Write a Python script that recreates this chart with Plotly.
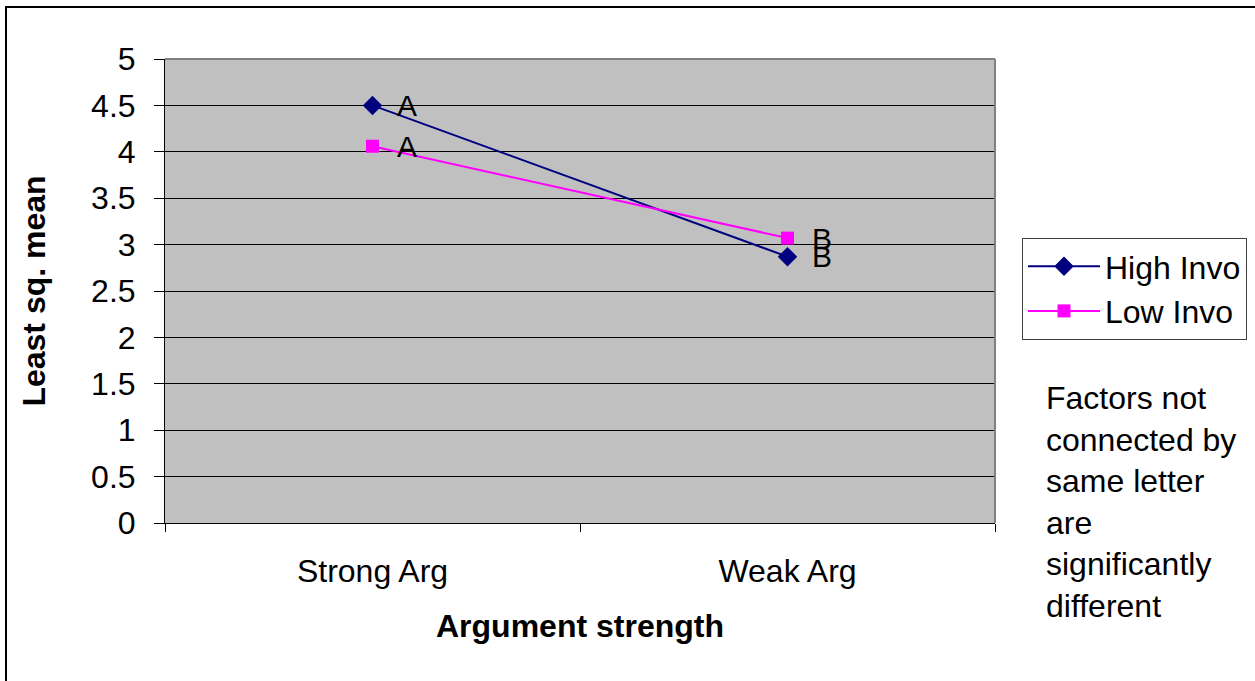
import plotly.graph_objects as go

# Least-squares means by argument strength and involvement level
categories = ["Strong Arg", "Weak Arg"]
high_invo = [4.50, 2.87]
low_invo = [4.06, 3.07]
high_letters = ["A", "B"]
low_letters = ["A", "B"]
y_ticks = [0, 0.5, 1, 1.5, 2, 2.5, 3, 3.5, 4, 4.5, 5]
y_tick_text = ["0", "0.5", "1", "1.5", "2", "2.5", "3", "3.5", "4", "4.5", "5"]
note_lines = ["Factors not", "connected by", "same letter", "are", "significantly", "different"]

FONT = "Liberation Sans, Arial, sans-serif"
FS = 32
NAVY = "#000080"
MAGENTA = "#FF00FF"

# plot-area geometry in pixels
W, H = 1255, 681
L, R, T, B = 165, 260, 59, 158
pw, ph = W - L - R, H - T - B


def px_x(x):
    return (x - L) / pw


def px_y(y):
    return (H - B - y) / ph


fig = go.Figure()
fig.add_trace(go.Scatter(
    x=categories, y=high_invo, name="High Invo", mode="lines+markers",
    line=dict(color=NAVY, width=2),
    marker=dict(symbol="diamond", size=15, color=NAVY),
))
fig.add_trace(go.Scatter(
    x=categories, y=low_invo, name="Low Invo", mode="lines+markers",
    line=dict(color=MAGENTA, width=2),
    marker=dict(symbol="square", size=13, color=MAGENTA),
))

annotations = []
for cat, val, letter in zip(categories, high_invo, high_letters):
    annotations.append(dict(x=cat, y=val, text=letter, showarrow=False,
                            xanchor="left", yanchor="middle", xshift=22,
                            font=dict(family=FONT, size=30, color="black")))
for cat, val, letter in zip(categories, low_invo, low_letters):
    annotations.append(dict(x=cat, y=val, text=letter, showarrow=False,
                            xanchor="left", yanchor="middle", xshift=22,
                            font=dict(family=FONT, size=30, color="black")))

annotations.append(dict(
    xref="paper", yref="paper", x=px_x(1044), y=px_y(378),
    xanchor="left", yanchor="top", align="left", showarrow=False,
    text="<br>".join(note_lines),
    font=dict(family=FONT, size=FS, color="black"),
))

shapes = [
    # outer frame
    dict(type="rect", xref="paper", yref="paper",
         x0=px_x(6), x1=px_x(1300), y0=px_y(740), y1=px_y(7),
         line=dict(color="black", width=2), layer="below"),
    # plot area border (top and right)
    dict(type="line", xref="paper", yref="paper", x0=0, x1=1, y0=1, y1=1,
         line=dict(color="#808080", width=2)),
    dict(type="line", xref="paper", yref="paper", x0=1, x1=1, y0=0, y1=1,
         line=dict(color="#808080", width=2)),
]

fig.update_layout(
    width=W, height=H,
    margin=dict(l=L, r=R, t=T, b=B, pad=0, autoexpand=False),
    paper_bgcolor="white", plot_bgcolor="#C0C0C0",
    font=dict(family=FONT, size=FS, color="black"),
    showlegend=True,
    legend=dict(
        x=px_x(1022), y=px_y(238), xanchor="left", yanchor="top",
        bgcolor="white", bordercolor="#404040", borderwidth=1,
        font=dict(family=FONT, size=FS, color="black"),
        itemwidth=72, tracegroupgap=0,
    ),
    annotations=annotations,
    shapes=shapes,
    xaxis=dict(
        type="category", range=[-0.5, 1.5], automargin=False,
        showgrid=False, showline=True, linecolor="black", linewidth=1,
        ticks="outside", tickson="boundaries", ticklen=8, tickcolor="black",
        ticklabelstandoff=20,
        title=dict(text="<b>Argument strength</b>", standoff=26,
                   font=dict(family=FONT, size=FS)),
        zeroline=False,
    ),
    yaxis=dict(
        range=[0, 5], tickvals=y_ticks, ticktext=y_tick_text, automargin=False,
        showgrid=True, gridcolor="black", gridwidth=1,
        showline=True, linecolor="black", linewidth=1,
        ticks="outside", ticklen=10, tickcolor="black",
        ticklabelstandoff=12,
        title=dict(text="<b>Least sq. mean</b>", standoff=35,
                   font=dict(family=FONT, size=FS)),
        zeroline=False,
    ),
)

fig.write_html("out.html")
